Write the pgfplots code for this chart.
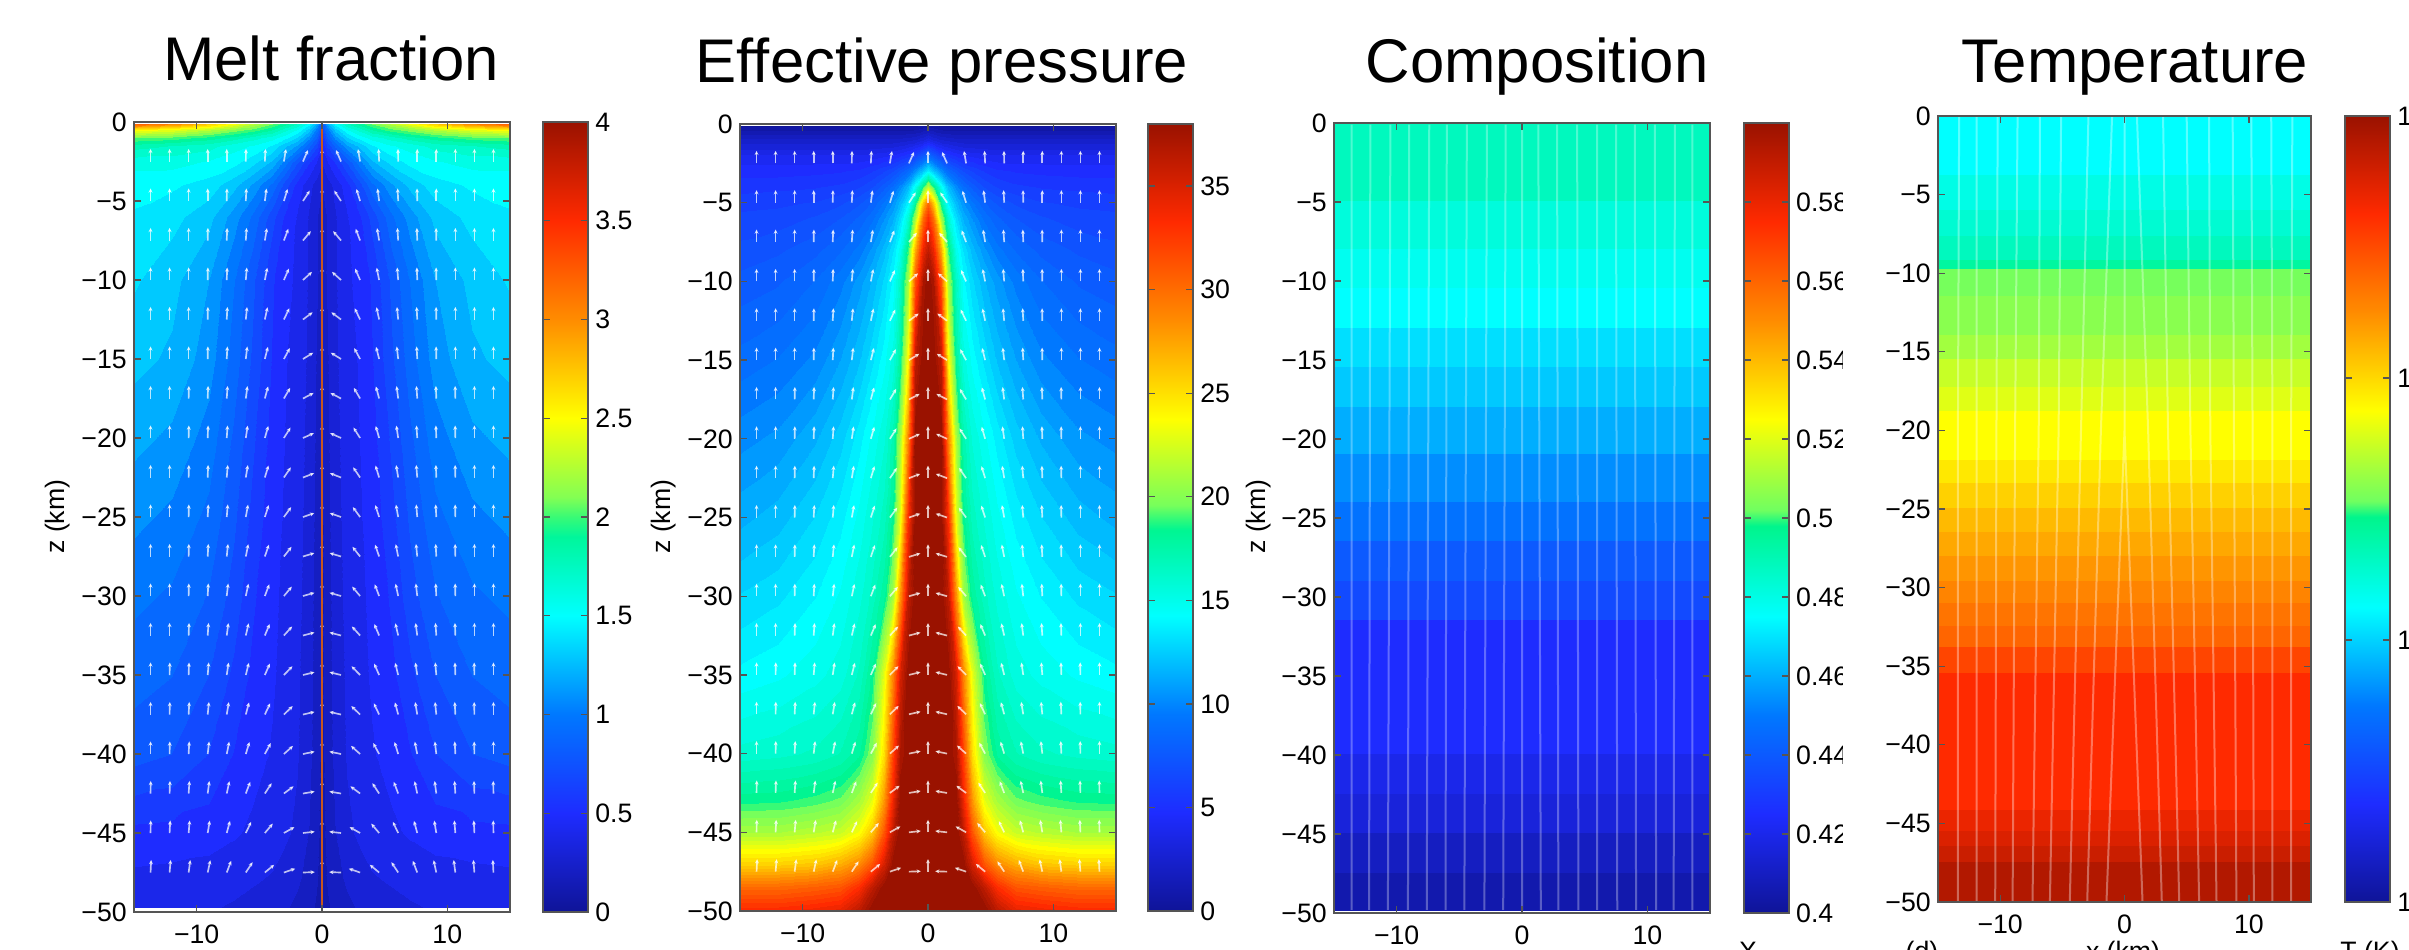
\documentclass[border=0pt]{standalone}
\usepackage{fontspec}
\setmainfont{Liberation Sans}
\usepackage{pgfplots}
\usepackage{pgfplotstable}
\pgfplotsset{compat=1.18}
\usepgfplotslibrary{colormaps}
\usetikzlibrary{arrows.meta}
\definecolor{axc}{HTML}{555555}
\definecolor{spike}{RGB}{200,86,30}
\pgfplotsset{
  colormap={jetx}{rgb255(0pt)=(15,20,152); rgb255(125pt)=(30,44,255); rgb255(250pt)=(0,120,255); rgb255(375pt)=(0,255,255); rgb255(490pt)=(0,245,140); rgb255(510pt)=(112,255,96); rgb255(625pt)=(255,255,0); rgb255(750pt)=(255,140,0); rgb255(875pt)=(255,42,0); rgb255(1000pt)=(154,18,0)},
  colormap={jet40}{samples of colormap=(41 of jetx)},
  colormap={jet64}{samples of colormap=(65 of jetx)},
  tk/.style={font=\fontsize{8}{9.5}\selectfont},
  panel/.style={
    scale only axis, width=112.8pt, anchor=north west, axis on top,
    xmin=-15, xmax=15, ymin=-50, ymax=0,
    xtick={-10,0,10}, xticklabels={−10,0,10},
    ytick={-50,-45,-40,-35,-30,-25,-20,-15,-10,-5,0},
    yticklabels={−50,−45,−40,−35,−30,−25,−20,−15,−10,−5,0},
    tick align=inside, major tick length=2pt,
    axis line style={draw=axc,line width=.5pt}, tick style={draw=axc,line width=.4pt},
    tick label style={tk,inner sep=0pt},
    xticklabel shift=3.8pt, yticklabel shift=2pt,
  },
  cb/.style={at={(#1,1)},anchor=north west,width=13.5pt,
    tick align=inside, major tick length=2pt, ytick pos=both, yticklabel pos=right,
    axis line style={draw=axc,line width=.5pt}, ytick style={draw=axc,line width=.4pt},
    tick label style={tk,inner sep=0pt}, yticklabel shift=2pt,
  },
  arw/.style={white,opacity=.72,line width=.5pt,forget plot},
}
\pgfplotstableread{
z a1 a2 a3 a4 a5 a6 a7 a8 a9
-2.5 25 10 3 1 0 0 0 0 0
-5 35 18 8 3 1 0 0 0 0
-7.5 42 22 10 4 2 1 0 0 0
-10 50 25 12 5 2 1 0 0 0
-12.5 55 27 13 6 3 1 0 0 0
-15 60 30 15 7 3 1 0 0 0
-17.5 64 32 16 8 4 2 1 0 0
-20 67 34 17 9 4 2 1 0 0
-22.5 70 36 18 10 5 2 1 0 0
-25 72 38 19 11 5 3 1 0 0
-27.5 74 40 20 12 6 3 1 0 0
-30 75 42 22 13 7 3 1 0 0
-32.5 76 44 24 14 8 4 2 0 0
-35 77 46 25 15 9 5 2 1 0
-37.5 78 48 27 16 10 6 3 1 0
-40 79 50 30 18 12 7 3 1 0
-42.5 81 55 35 22 13 8 4 2 1
-45 84 62 42 27 16 10 5 3 1
-47.5 88 72 52 35 22 13 8 5 3
}\vel
\pgfplotstableread{
x z v
15 -0.15 3.2
12 -0.15 3.0
9 -0.15 2.7
7 -0.15 2.45
5.5 -0.15 2.25
4 -0.15 2.05
3 -0.15 1.9
2 -0.15 1.75
1 -0.15 1.5
0.4 -0.15 1.2
0 -0.15 0.8
15 -0.5 2.5
12 -0.5 2.4
9 -0.5 2.25
7 -0.5 2.1
5.5 -0.5 2.0
4 -0.5 1.85
3 -0.5 1.7
2 -0.5 1.55
1 -0.5 1.3
0.4 -0.5 1.0
0 -0.5 0.7
15 -1 2.05
12 -1 2.0
9 -1 1.9
7 -1 1.8
5.5 -1 1.7
4 -1 1.6
3 -1 1.5
2 -1 1.35
1 -1 1.1
0.4 -1 0.85
0 -1 0.55
15 -1.5 1.8
12 -1.5 1.75
9 -1.5 1.7
7 -1.5 1.6
5.5 -1.5 1.55
4 -1.5 1.45
3 -1.5 1.3
2 -1.5 1.15
1 -1.5 0.9
0.4 -1.5 0.7
0 -1.5 0.5
15 -2.5 1.6
12 -2.5 1.6
9 -2.5 1.55
7 -2.5 1.5
5.5 -2.5 1.4
4 -2.5 1.25
3 -2.5 1.05
2 -2.5 0.8
1 -2.5 0.6
0.4 -2.5 0.48
0 -2.5 0.4
15 -4 1.5
12 -4 1.48
9 -4 1.42
7 -4 1.3
5.5 -4 1.15
4 -4 0.95
3 -4 0.75
2 -4 0.55
1 -4 0.42
0.4 -4 0.35
0 -4 0.3
15 -6 1.45
12 -6 1.4
9 -6 1.3
7 -6 1.12
5.5 -6 0.95
4 -6 0.72
3 -6 0.58
2 -6 0.48
1 -6 0.38
0.4 -6 0.3
0 -6 0.25
15 -10 1.38
12 -10 1.3
9 -10 1.17
7 -10 0.98
5.5 -10 0.8
4 -10 0.6
3 -10 0.52
2 -10 0.47
1 -10 0.38
0.4 -10 0.3
0 -10 0.22
15 -15 1.3
12 -15 1.25
9 -15 1.12
7 -15 0.93
5.5 -15 0.76
4 -15 0.58
3 -15 0.5
2 -15 0.45
1 -15 0.37
0.4 -15 0.28
0 -15 0.2
15 -20 1.2
12 -20 1.15
9 -20 1.03
7 -20 0.86
5.5 -20 0.7
4 -20 0.55
3 -20 0.49
2 -20 0.44
1 -20 0.36
0.4 -20 0.27
0 -20 0.2
15 -25 1.1
12 -25 1.05
9 -25 0.95
7 -25 0.8
5.5 -25 0.65
4 -25 0.53
3 -25 0.48
2 -25 0.43
1 -25 0.35
0.4 -25 0.26
0 -25 0.18
15 -30 1.0
12 -30 0.96
9 -30 0.87
7 -30 0.74
5.5 -30 0.6
4 -30 0.51
3 -30 0.47
2 -30 0.42
1 -30 0.34
0.4 -30 0.25
0 -30 0.18
15 -35 0.92
12 -35 0.88
9 -35 0.78
7 -35 0.66
5.5 -35 0.56
4 -35 0.5
3 -35 0.46
2 -35 0.41
1 -35 0.33
0.4 -35 0.25
0 -35 0.18
15 -40 0.82
12 -40 0.78
9 -40 0.68
7 -40 0.58
5.5 -40 0.52
4 -40 0.48
3 -40 0.44
2 -40 0.4
1 -40 0.32
0.4 -40 0.24
0 -40 0.17
15 -45 0.56
12 -45 0.55
9 -45 0.53
7 -45 0.5
5.5 -45 0.47
4 -45 0.44
3 -45 0.41
2 -45 0.37
1 -45 0.29
0.4 -45 0.22
0 -45 0.16
15 -48 0.46
12 -48 0.45
9 -48 0.44
7 -48 0.42
5.5 -48 0.4
4 -48 0.38
3 -48 0.35
2 -48 0.31
1 -48 0.25
0.4 -48 0.2
0 -48 0.15
15 -49.7 0.42
12 -49.7 0.41
9 -49.7 0.4
7 -49.7 0.38
5.5 -49.7 0.36
4 -49.7 0.34
3 -49.7 0.31
2 -49.7 0.27
1 -49.7 0.23
0.4 -49.7 0.18
0 -49.7 0.14
}\melt
\pgfplotstableread{
x z v
15 -0.1 0.5
12 -0.1 0.5
9 -0.1 0.5
7 -0.1 0.5
5.5 -0.1 0.5
4.5 -0.1 0.5
3.5 -0.1 0.5
2.8 -0.1 0.5
2.2 -0.1 0.5
1.6 -0.1 0.5
1 -0.1 0.5
0.4 -0.1 0.8
0 -0.1 1
15 -1 2.5
12 -1 2.5
9 -1 2.5
7 -1 2.5
5.5 -1 2.5
4.5 -1 2.5
3.5 -1 2.5
2.8 -1 2.5
2.2 -1 2.6
1.6 -1 2.8
1 -1 3
0.4 -1 3.5
0 -1 4
15 -2 4.2
12 -2 4.2
9 -2 4.2
7 -2 4.2
5.5 -2 4.2
4.5 -2 4.4
3.5 -2 4.6
2.8 -2 4.8
2.2 -2 5.2
1.6 -2 5.7
1 -2 6.5
0.4 -2 8
0 -2 9
15 -3 5
12 -3 5
9 -3 5.1
7 -3 5.2
5.5 -3 5.4
4.5 -3 5.8
3.5 -3 6.4
2.8 -3 7
2.2 -3 7.8
1.6 -3 8.8
1 -3 10.5
0.4 -3 12.5
0 -3 14
15 -4 5.6
12 -4 5.7
9 -4 5.8
7 -4 6
5.5 -4 6.4
4.5 -4 7
3.5 -4 8
2.8 -4 9
2.2 -4 10.3
1.6 -4 12
1 -4 15
0.4 -4 19
0 -4 22
15 -5 6.2
12 -5 6.3
9 -5 6.5
7 -5 6.9
5.5 -5 7.5
4.5 -5 8.3
3.5 -5 9.5
2.8 -5 10.6
2.2 -5 12
1.6 -5 14
1 -5 18
0.4 -5 26
0 -5 30
15 -6 6.6
12 -6 6.7
9 -6 7.1
7 -6 7.6
5.5 -6 8.3
4.5 -6 9.2
3.5 -6 10.5
2.8 -6 11.6
2.2 -6 13.2
1.6 -6 16
1 -6 21
0.4 -6 30
0 -6 33
15 -8 7.2
12 -8 7.5
9 -8 8
7 -8 8.7
5.5 -8 9.6
4.5 -8 10.7
3.5 -8 12
2.8 -8 13.4
2.2 -8 15
1.6 -8 19
1 -8 27
0.4 -8 34
0 -8 36
15 -10 7.8
12 -10 8.1
9 -10 8.8
7 -10 9.7
5.5 -10 10.8
4.5 -10 11.8
3.5 -10 13
2.8 -10 14.3
2.2 -10 16.5
1.6 -10 21
1 -10 31
0.4 -10 37
0 -10 38
15 -15 9
12 -15 9.4
9 -15 10.1
7 -15 11.1
5.5 -15 12.2
4.5 -15 13.3
3.5 -15 14.4
2.8 -15 15.5
2.2 -15 18
1.6 -15 24
1 -15 36
0.4 -15 38
0 -15 38
15 -20 10.3
12 -20 10.7
9 -20 11.6
7 -20 12.6
5.5 -20 13.8
4.5 -20 14.8
3.5 -20 15.7
2.8 -20 17.3
2.2 -20 21
1.6 -20 29
1 -20 38
0.4 -20 38
0 -20 38
15 -25 11.5
12 -25 12
9 -25 12.9
7 -25 13.8
5.5 -25 14.8
4.5 -25 15.7
3.5 -25 16.7
2.8 -25 18.5
2.2 -25 23
1.6 -25 33
1 -25 38
0.4 -25 38
0 -25 38
15 -30 12.9
12 -30 13.3
9 -30 14
7 -30 14.7
5.5 -30 15.6
4.5 -30 16.6
3.5 -30 18
2.8 -30 21
2.2 -30 28
1.6 -30 36
1 -30 38
0.4 -30 38
0 -30 38
15 -35 14.2
12 -35 14.5
9 -35 15
7 -35 15.5
5.5 -35 16.5
4.5 -35 18.3
3.5 -35 23
2.8 -35 29
2.2 -35 35
1.6 -35 38
1 -35 38
0.4 -35 38
0 -35 38
15 -40 16
12 -40 16.2
9 -40 16.5
7 -40 17
5.5 -40 18
4.5 -40 20
3.5 -40 25
2.8 -40 32
2.2 -40 37
1.6 -40 38
1 -40 38
0.4 -40 38
0 -40 38
15 -43 18.5
12 -43 18.6
9 -43 19
7 -43 19.5
5.5 -43 21
4.5 -43 23
3.5 -43 28
2.8 -43 34
2.2 -43 38
1.6 -43 38
1 -43 38
0.4 -43 38
0 -43 38
15 -45 21
12 -45 21
9 -45 21.5
7 -45 22
5.5 -45 23.5
4.5 -45 26
3.5 -45 31
2.8 -45 36
2.2 -45 38
1.6 -45 38
1 -45 38
0.4 -45 38
0 -45 38
15 -47 25.5
12 -47 25.5
9 -47 26
7 -47 27
5.5 -47 28.5
4.5 -47 31
3.5 -47 35
2.8 -47 38
2.2 -47 38
1.6 -47 38
1 -47 38
0.4 -47 38
0 -47 38
15 -48.5 30
12 -48.5 30
9 -48.5 30.5
7 -48.5 31
5.5 -48.5 33
4.5 -48.5 36
3.5 -48.5 38
2.8 -48.5 38
2.2 -48.5 38
1.6 -48.5 38
1 -48.5 38
0.4 -48.5 38
0 -48.5 38
15 -49.9 33
12 -49.9 33
9 -49.9 33.5
7 -49.9 34
5.5 -49.9 36
4.5 -49.9 38
3.5 -49.9 38
2.8 -49.9 38
2.2 -49.9 38
1.6 -49.9 38
1 -49.9 38
0.4 -49.9 38
0 -49.9 38
}\peff
\pgfplotstableread{
x z v
-15 -0.1 0.488
15 -0.1 0.488
-15 -5 0.482
15 -5 0.482
-15 -8 0.478
15 -8 0.478
-15 -10.5 0.475
15 -10.5 0.475
-15 -13 0.469
15 -13 0.469
-15 -15.5 0.465
15 -15.5 0.465
-15 -18 0.46
15 -18 0.46
-15 -21 0.454
15 -21 0.454
-15 -24 0.448
15 -24 0.448
-15 -26.5 0.44
15 -26.5 0.44
-15 -29 0.435
15 -29 0.435
-15 -31.5 0.425
15 -31.5 0.425
-15 -40 0.42
15 -40 0.42
-15 -42.5 0.416
15 -42.5 0.416
-15 -45 0.41
15 -45 0.41
-15 -47.5 0.405
15 -47.5 0.405
-15 -49.8 0.405
15 -49.8 0.405
}\comp
\pgfplotstableread{
x z v
-15 0 0.375
15 0 0.375
-15 -3.8 0.40
15 -3.8 0.40
-15 -6 0.42
15 -6 0.42
-15 -7.7 0.44
15 -7.7 0.44
-15 -9.2 0.47
15 -9.2 0.47
-15 -9.8 0.515
15 -9.8 0.515
-15 -11.5 0.53
15 -11.5 0.53
-15 -14 0.55
15 -14 0.55
-15 -15.5 0.58
15 -15.5 0.58
-15 -17.3 0.60
15 -17.3 0.60
-15 -18.8 0.625
15 -18.8 0.625
-15 -21.9 0.65
15 -21.9 0.65
-15 -23.4 0.675
15 -23.4 0.675
-15 -25 0.70
15 -25 0.70
-15 -26.5 0.72
15 -26.5 0.72
-15 -28 0.74
15 -28 0.74
-15 -29.6 0.76
15 -29.6 0.76
-15 -31 0.78
15 -31 0.78
-15 -32.5 0.80
15 -32.5 0.80
-15 -33.8 0.84
15 -33.8 0.84
-15 -35.5 0.875
15 -35.5 0.875
-15 -44.2 0.90
15 -44.2 0.90
-15 -45.5 0.92
15 -45.5 0.92
-15 -46.5 0.94
15 -46.5 0.94
-15 -47.5 0.97
15 -47.5 0.97
-15 -50 0.97
15 -50 0.97
}\temp
\newcommand\arrows{%
  \pgfplotsinvokeforeach{1,...,9}{%
    \addplot[arw,quiver={u={sin(\thisrow{a##1})*0.95},v={cos(\thisrow{a##1})*0.8},every arrow/.append style={-{Stealth[length=1.3pt,width=1.2pt]}}}] table[x expr={-1.52*##1},y=z]{\vel};
    \addplot[arw,quiver={u={-sin(\thisrow{a##1})*0.95},v={cos(\thisrow{a##1})*0.8},every arrow/.append style={-{Stealth[length=1.3pt,width=1.2pt]}}}] table[x expr={1.52*##1},y=z]{\vel};
  }%
  \addplot[arw,quiver={u=0,v=0.8,every arrow/.append style={-{Stealth[length=1.3pt,width=1.2pt]}}}] table[x expr=0,y=z]{\vel};
}
\begin{document}
\begin{tikzpicture}
\useasboundingbox (0,0) rectangle (722.7pt,-284.7pt);
\clip (0,0) rectangle (722.7pt,-284.7pt);
\tikzset{ttl/.style={font=\fontsize{18.5}{22}\selectfont,anchor=base},
  zl/.style={rotate=90,font=\fontsize{8}{9.5}\selectfont}}
% titles
\node[ttl] at (99.3pt,-24pt) {Melt fraction};
\node[ttl] at (282.6pt,-24.6pt) {Effective pressure};
\node[ttl] at (461.1pt,-24.6pt) {Composition};
\node[ttl] at (640.5pt,-24.6pt) {Temperature};
\node[zl] at (17.4pt,-155pt) {z (km)};
\node[zl] at (199.2pt,-155pt) {z (km)};
\node[zl] at (377.7pt,-155pt) {z (km)};
\node[zl] at (559.2pt,-152pt) {z (km)};
% panel 1
\begin{axis}[panel, at={(40.2pt,-36.6pt)}, height=237pt,
  colormap name=jet40, point meta min=0, point meta max=4,
  colorbar, colorbar style={cb=1.0878, ytick={0,0.5,1,1.5,2,2.5,3,3.5,4}, yticklabels={0,0.5,1,1.5,2,2.5,3,3.5,4}}]
\addplot[surf,shader=interp,mesh/cols=11,point meta=explicit,colormap access=piecewise constant,forget plot] table[x expr=-\thisrow{x},y=z,meta=v]{\melt};
\addplot[surf,shader=interp,mesh/cols=11,point meta=explicit,colormap access=piecewise constant,forget plot] table[x=x,y=z,meta=v]{\melt};
\arrows
\addplot[color=spike,line width=.45pt,forget plot] coordinates {(0,-0.15)(0,-49.7)};
\end{axis}
% panel 2
\begin{axis}[panel, at={(222pt,-37.2pt)}, height=236.1pt,
  colormap name=jet64, point meta min=0, point meta max=38,
  colorbar, colorbar style={cb=1.085, ytick={0,5,10,15,20,25,30,35}, yticklabels={0,5,10,15,20,25,30,35}}]
\addplot[surf,shader=interp,mesh/cols=13,point meta=explicit,colormap access=piecewise constant,forget plot] table[x expr=-\thisrow{x},y=z,meta=v]{\peff};
\addplot[surf,shader=interp,mesh/cols=13,point meta=explicit,colormap access=piecewise constant,forget plot] table[x=x,y=z,meta=v]{\peff};
\arrows
\end{axis}
% panel 3
\begin{axis}[panel, at={(400.2pt,-36.9pt)}, height=237pt,
  colormap name=jetx, point meta min=0.4, point meta max=0.6,
  colorbar, colorbar style={cb=1.09, ytick={0.4,0.42,0.44,0.46,0.48,0.5,0.52,0.54,0.56,0.58}, yticklabels={0.4,0.42,0.44,0.46,0.48,0.5,0.52,0.54,0.56,0.58}}]
\addplot[surf,shader=flat corner,mesh/cols=2,point meta=explicit,forget plot] table[x=x,y=z,meta=v]{\comp};
\addplot[white,opacity=.3,line width=.6pt,unbounded coords=jump,forget plot] coordinates {
(-13.6,-0.1)(-13.6,-49.8)(nan,nan)(-12.1,-0.1)(-12.2,-49.8)(nan,nan)(-10.5,-0.1)(-10.7,-49.8)(nan,nan)(-9,-0.1)(-9.1,-49.8)(nan,nan)(-7.4,-0.1)(-7.6,-49.8)(nan,nan)(-6,-0.1)(-6.1,-49.8)(nan,nan)(-4.4,-0.1)(-4.6,-49.8)(nan,nan)(-2.8,-0.1)(-3,-49.8)(nan,nan)(-1.3,-0.1)(-1.5,-49.8)(nan,nan)(0,-0.1)(0,-49.8)(nan,nan)(1.3,-0.1)(1.5,-49.8)(nan,nan)(2.8,-0.1)(2.9,-49.8)(nan,nan)(4.4,-0.1)(4.5,-49.8)(nan,nan)(6,-0.1)(6,-49.8)(nan,nan)(7.5,-0.1)(7.6,-49.8)(nan,nan)(9,-0.1)(9.1,-49.8)(nan,nan)(10.6,-0.1)(10.7,-49.8)(nan,nan)(12.2,-0.1)(12.1,-49.8)(nan,nan)(13.6,-0.1)(13.6,-49.8)};
\end{axis}
\fill[white] (552.9pt,-30pt) rectangle (570pt,-284.7pt);
% panel 4
\begin{axis}[panel, at={(581.4pt,-34.8pt)}, width=111.9pt, height=235.8pt,
  colormap name=jetx, point meta min=0, point meta max=1,
  colorbar, colorbar style={cb=1.091, ytick={0,0.3333,0.6667,1}, yticklabels={1,1,1,1}}]
\addplot[surf,shader=flat corner,mesh/cols=2,point meta=explicit,forget plot] table[x=x,y=z,meta=v]{\temp};
\addplot[white,opacity=.35,line width=.6pt,unbounded coords=jump,forget plot] coordinates {
(0,0)(0,-20)(-1.45,-50)(nan,nan)(0,-20)(1.45,-50)(nan,nan)
(-1,0)(-1.9,-20)(-3,-50)(nan,nan)(1,0)(1.9,-20)(3,-50)(nan,nan)
(-2.9,0)(-3.5,-20)(-4.4,-50)(nan,nan)(3.1,0)(3.5,-20)(4.4,-50)(nan,nan)
(-5.1,0)(-5.3,-20)(-6,-50)(nan,nan)(5,0)(5.3,-20)(6,-50)(nan,nan)
(-6.8,0)(-6.9,-20)(-7.4,-50)(nan,nan)(6.8,0)(6.9,-20)(7.4,-50)(nan,nan)
(-8.6,0)(-8.8,-20)(-9,-50)(nan,nan)(8.7,0)(8.8,-20)(9,-50)(nan,nan)
(-10.2,0)(-10.3,-20)(-10.4,-50)(nan,nan)(10.2,0)(10.3,-20)(10.4,-50)(nan,nan)
(-11.9,0)(-11.9,-20)(-11.9,-50)(nan,nan)(11.8,0)(11.9,-20)(11.9,-50)(nan,nan)
(-13.3,0)(-13.4,-20)(-13.4,-50)(nan,nan)(13.5,0)(13.4,-20)(13.4,-50)};
\end{axis}
% cropped bottom labels
\tikzset{bl/.style={font=\fontsize{8}{9.5}\selectfont,anchor=base}}
\node[bl] at (524.4pt,-288pt) {X};
\node[bl] at (576.6pt,-288pt) {(d)};
\node[bl] at (636.9pt,-288pt) {x (km)};
\node[bl] at (711pt,-288pt) {T (K)};
\end{tikzpicture}
\end{document}
